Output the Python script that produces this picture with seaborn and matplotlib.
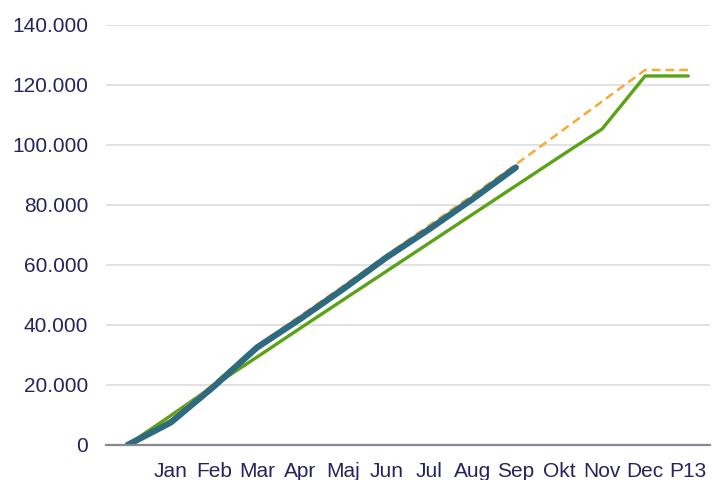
import numpy as np
import pandas as pd
import matplotlib.pyplot as plt
import seaborn as sns
from matplotlib.ticker import FuncFormatter

months = ["", "Jan", "Feb", "Mar", "Apr", "Maj", "Jun", "Jul", "Aug", "Sep", "Okt", "Nov", "Dec", "P13"]
actual = [0, 7500, 19500, 32500, 42000, 52000, 62500, 72000, 82000, 92500]
forecast = [0, 8500, 20500, 33000, 43000, 53000, 63300, 73300, 83300, 93500, 104000, 114500, 125000, 125000]
budget = [0, 9800, 19800, 29300, 38900, 48400, 57900, 67400, 76900, 86400, 95900, 105300, 123000, 123000]

sns.set_theme(style="white")
plt.rcParams["font.family"] = ["Liberation Sans", "DejaVu Sans"]

fig = plt.figure(figsize=(7.12, 4.8), dpi=100)
ax = fig.add_axes([0.149, 0.073, 0.848, 0.875])

ax.yaxis.grid(True, color="#dedee4", linewidth=1.3)
ax.set_axisbelow(True)

pos = np.arange(len(months))
sns.lineplot(x=pos, y=budget, color="#5ba316", linewidth=2.4, ax=ax)
sns.lineplot(x=pos, y=forecast, color="#f9aa33", linewidth=1.8, linestyle=(0, (3.5, 2)), ax=ax)
sns.lineplot(x=pos[:len(actual)], y=actual, color="#2e6a80", linewidth=4.5, ax=ax,
             solid_capstyle="round")

ax.set_xlim(-0.5, len(months) - 0.5)
ax.set_ylim(0, 140000)
ax.set_yticks(np.arange(0, 140001, 20000))
ax.yaxis.set_major_formatter(FuncFormatter(lambda v, p: f"{int(v):,}".replace(",", ".")))
ax.set_xticks(pos)
ax.set_xticklabels(months)

for s in ["top", "right", "left"]:
    ax.spines[s].set_visible(False)
ax.spines["bottom"].set_color("#888890")
ax.spines["bottom"].set_linewidth(1.6)

ax.tick_params(axis="both", length=0, labelsize=15, labelcolor="#26245c")
ax.tick_params(axis="x", pad=12)
ax.tick_params(axis="y", pad=13)

fig.savefig("out.png", dpi=100)
